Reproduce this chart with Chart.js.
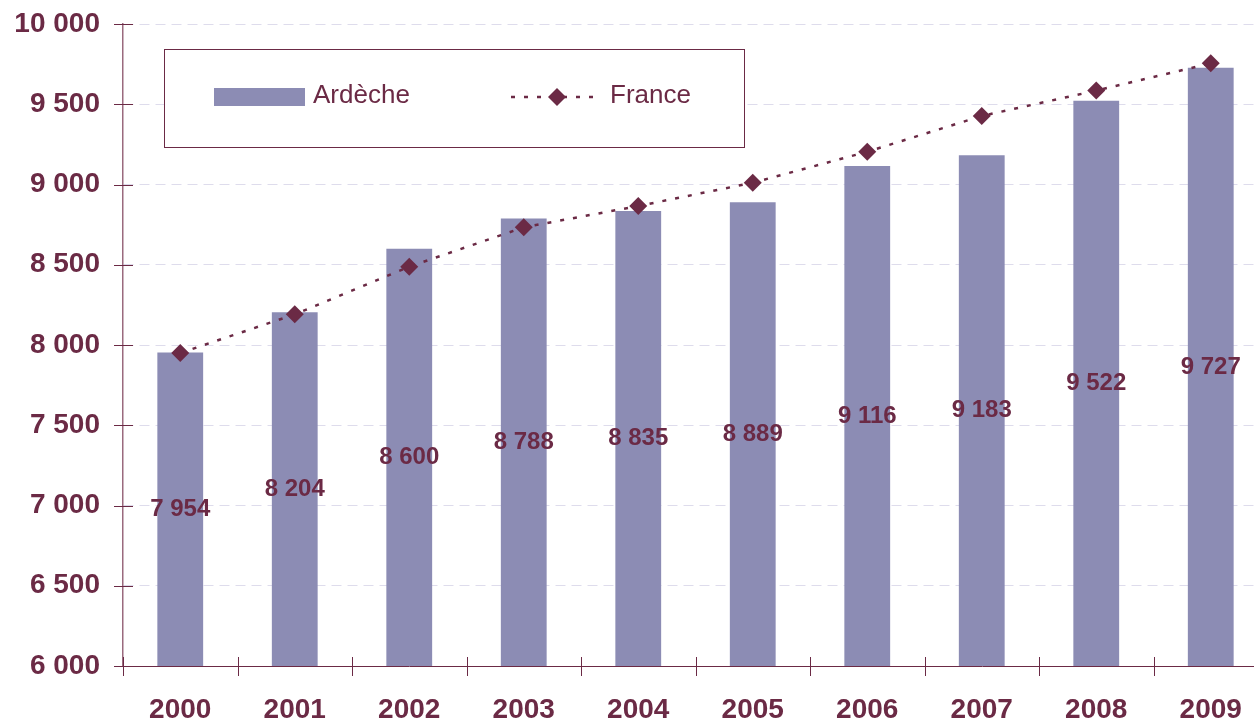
<!DOCTYPE html>
<html>
<head>
<meta charset="utf-8">
<script src="https://cdn.jsdelivr.net/npm/chart.js@4/dist/chart.umd.min.js"></script>
<style>
  html, body { margin: 0; padding: 0; background: #fff; overflow: hidden; }
  #wrap { position: relative; width: 1277px; height: 720px; }
</style>
</head>
<body>
<div id="wrap"><canvas id="chart"></canvas></div>
<script>
// data
const years = ['2000', '2001', '2002', '2003', '2004', '2005', '2006', '2007', '2008', '2009'];
const ardeche = [7954, 8204, 8600, 8788, 8835, 8889, 9116, 9183, 9522, 9727];
const france = [7950, 8191, 8488, 8733, 8866, 9011, 9204, 9427, 9585, 9755];

const maroon = '#6b2a45';
const barColor = '#8c8cb4';
const fmt = v => String(v).replace(/\B(?=(\d{3})+(?!\d))/g, ' ');

// value labels in the middle of each bar
const barLabels = {
  id: 'barLabels',
  afterDraw(chart) {
    const { ctx, scales: { x, y } } = chart;
    const base = y.getPixelForValue(y.min);
    ctx.save();
    ctx.font = 'bold 24px "Liberation Sans", Arial, sans-serif';
    ctx.fillStyle = maroon;
    ctx.textAlign = 'center';
    ctx.textBaseline = 'middle';
    ardeche.forEach((v, i) => {
      ctx.fillText(fmt(v), x.getPixelForValue(i), (y.getPixelForValue(v) + base) / 2);
    });
    ctx.restore();
  }
};

// tick marks crossing the axes
const crossTicks = {
  id: 'crossTicks',
  afterDraw(chart) {
    const { ctx, chartArea: a, scales: { x, y } } = chart;
    ctx.save();
    ctx.strokeStyle = maroon;
    ctx.lineWidth = 1;
    y.ticks.forEach(t => {
      const py = Math.round(y.getPixelForValue(t.value)) + 0.5;
      ctx.beginPath(); ctx.moveTo(a.left - 9, py); ctx.lineTo(a.left + 10, py); ctx.stroke();
    });
    const step = x.getPixelForValue(1) - x.getPixelForValue(0);
    for (let i = 0; i <= years.length; i++) {
      const px = Math.round(x.getPixelForValue(0) - step / 2 + i * step) + 0.5;
      ctx.beginPath(); ctx.moveTo(px, a.bottom - 9); ctx.lineTo(px, a.bottom + 10); ctx.stroke();
    }
    ctx.restore();
  }
};

// boxed legend
const boxLegend = {
  id: 'boxLegend',
  afterDraw(chart) {
    const ctx = chart.ctx;
    ctx.save();
    ctx.fillStyle = '#fff';
    ctx.fillRect(164, 49, 580, 98);
    ctx.strokeStyle = maroon;
    ctx.lineWidth = 1;
    ctx.strokeRect(164.5, 49.5, 580, 98);

    ctx.fillStyle = barColor;
    ctx.fillRect(214, 88, 91, 18);

    ctx.strokeStyle = maroon;
    ctx.lineWidth = 2.5;
    ctx.setLineDash([4, 9]);
    ctx.beginPath(); ctx.moveTo(511, 97); ctx.lineTo(602, 97); ctx.stroke();
    ctx.setLineDash([]);
    ctx.fillStyle = maroon;
    ctx.beginPath();
    ctx.moveTo(557, 88); ctx.lineTo(566, 97); ctx.lineTo(557, 106); ctx.lineTo(548, 97);
    ctx.closePath(); ctx.fill();

    ctx.font = '26px "Liberation Sans", Arial, sans-serif';
    ctx.textBaseline = 'middle';
    ctx.fillText('Ardèche', 313, 96);
    ctx.fillText('France', 610, 96);
    ctx.restore();
  }
};

new Chart(document.getElementById('chart'), {
  data: {
    labels: years,
    datasets: [
      {
        type: 'line',
        label: 'France',
        data: france,
        borderColor: maroon,
        borderWidth: 2.5,
        borderDash: [4, 9],
        pointStyle: 'rectRot',
        pointRadius: 9,
        pointBackgroundColor: maroon,
        pointBorderColor: maroon,
        pointBorderWidth: 0,
        tension: 0,
        order: 0
      },
      {
        type: 'bar',
        label: 'Ardèche',
        data: ardeche,
        backgroundColor: barColor,
        barPercentage: 0.4,
        categoryPercentage: 1,
        order: 1
      }
    ]
  },
  options: {
    responsive: true,
    maintainAspectRatio: false,
    animation: false,
    layout: { padding: { top: 24, right: 3, left: 0, bottom: 0 } },
    plugins: {
      legend: { display: false },
      tooltip: { enabled: false }
    },
    scales: {
      x: {
        offset: true,
        grid: { display: false },
        border: { color: maroon, width: 1 },
        ticks: {
          color: maroon,
          padding: 19,
          font: { family: '"Liberation Sans", Arial, sans-serif', size: 28, weight: 'bold' }
        },
        afterFit: s => { s.height = 54; s.paddingLeft = 0; s.paddingRight = 0; }
      },
      y: {
        min: 6000,
        max: 10000,
        grid: { color: '#dedcec', lineWidth: 1, drawTicks: false },
        border: { color: '#9a6a7e', width: 1.5, dash: [10, 6] },
        ticks: {
          stepSize: 500,
          color: maroon,
          padding: 23,
          font: { family: '"Liberation Sans", Arial, sans-serif', size: 28, weight: 'bold' },
          callback: v => fmt(v)
        },
        afterFit: s => { s.width = 123; s.paddingTop = 0; s.paddingBottom = 0; }
      }
    }
  },
  plugins: [barLabels, crossTicks, boxLegend]
});
</script>
</body>
</html>
